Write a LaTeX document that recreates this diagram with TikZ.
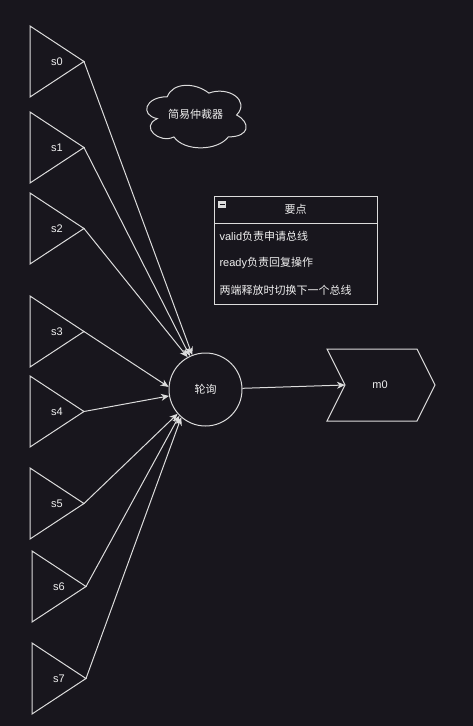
\documentclass[tikz,border=0pt]{standalone}
\usepackage{fontspec}
\setmainfont{Liberation Sans}
\newfontfamily\cjk{Noto Sans CJK SC}
\usetikzlibrary{arrows.meta}
\definecolor{bg}{HTML}{18161D}
\definecolor{ln}{HTML}{DCDCDC}
\definecolor{tx}{HTML}{F0F0F0}
\begin{document}
\begin{tikzpicture}[x=1pt,y=-1pt,line width=1pt,
  shp/.style={draw=ln,line join=miter},
  lbl/.style={text=tx,font=\fontsize{11}{13}\selectfont,inner sep=0pt},
  conn/.style={draw=ln,-{Stealth[length=8pt,width=7pt,inset=2.5pt]}},
  hub/.style={circle,draw=ln,minimum size=73pt,inner sep=0pt,text=tx,font=\fontsize{11}{13}\selectfont\cjk}]
\fill[bg] (0,0) rectangle (473,726);
\useasboundingbox (0,0) rectangle (473,726);
% sources
\foreach \n/\l/\t/\ax in {0/30/26/84,1/30/112/84,2/30/193/84,3/30/296/84,4/30/376/84,5/30/468/84,6/32/551/86,7/32/643/86}{
  \draw[shp] (\l,\t) -- (\ax,\t+35.5) -- (\l,\t+71) -- cycle;
  \coordinate (a\n) at (\ax,\t+35.5);
  \node[lbl] (s\n) at ({(\l+\ax)/2},\t+35.5) {s\n};
}
% hub
\node[hub] (c) at (205.5,389.5) {轮询};
\foreach \n/\ang in {0/111,1/115,2/119,3/176,4/190,5/221,6/225,7/229}{
  \draw[conn] (a\n) -- (c.\ang);
}
% m0
\draw[shp] (327,349) -- (417,349) -- (435,385) -- (417,421) -- (327,421) -- (345,385) -- cycle;
\coordinate (notch) at (345,385);
\node[lbl] (m0) at (380,385) {m0};
\draw[conn] (c) -- (notch);
% cloud
\begin{scope}[shift={(139.5,78.5)},x=111pt,y=-73pt]
\draw[shp] (0.25,0.25) .. controls (0.05,0.25) and (0,0.5) .. (0.16,0.55)
  .. controls (0,0.66) and (0.18,0.9) .. (0.31,0.8)
  .. controls (0.4,1) and (0.7,1) .. (0.8,0.8)
  .. controls (1,0.8) and (1,0.6) .. (0.875,0.5)
  .. controls (1,0.3) and (0.8,0.1) .. (0.625,0.2)
  .. controls (0.5,0.05) and (0.3,0.05) .. (0.25,0.25) -- cycle;
\end{scope}
\node[lbl,font=\fontsize{11}{13}\selectfont\cjk] (cloud) at (195.5,114) {简易仲裁器};
% note box
\draw[shp] (214,196) rectangle (377,304);
\draw[shp] (214,223.5) -- (377,223.5);
\fill[ln] (218,201) rectangle (226,208);
\draw[bg,line width=1.2pt] (219.5,204.5) -- (224.5,204.5);
\node[lbl,font=\fontsize{11}{13}\selectfont\cjk] (hdr) at (295.5,209) {要点};
\node[lbl,anchor=west] (i1) at (219,236) {valid{\cjk 负责申请总线}};
\node[lbl,anchor=west] (i2) at (219,263) {ready{\cjk 负责回复操作}};
\node[lbl,anchor=west,font=\fontsize{11}{13}\selectfont\cjk] (i3) at (219,290) {两端释放时切换下一个总线};
\end{tikzpicture}
\end{document}
